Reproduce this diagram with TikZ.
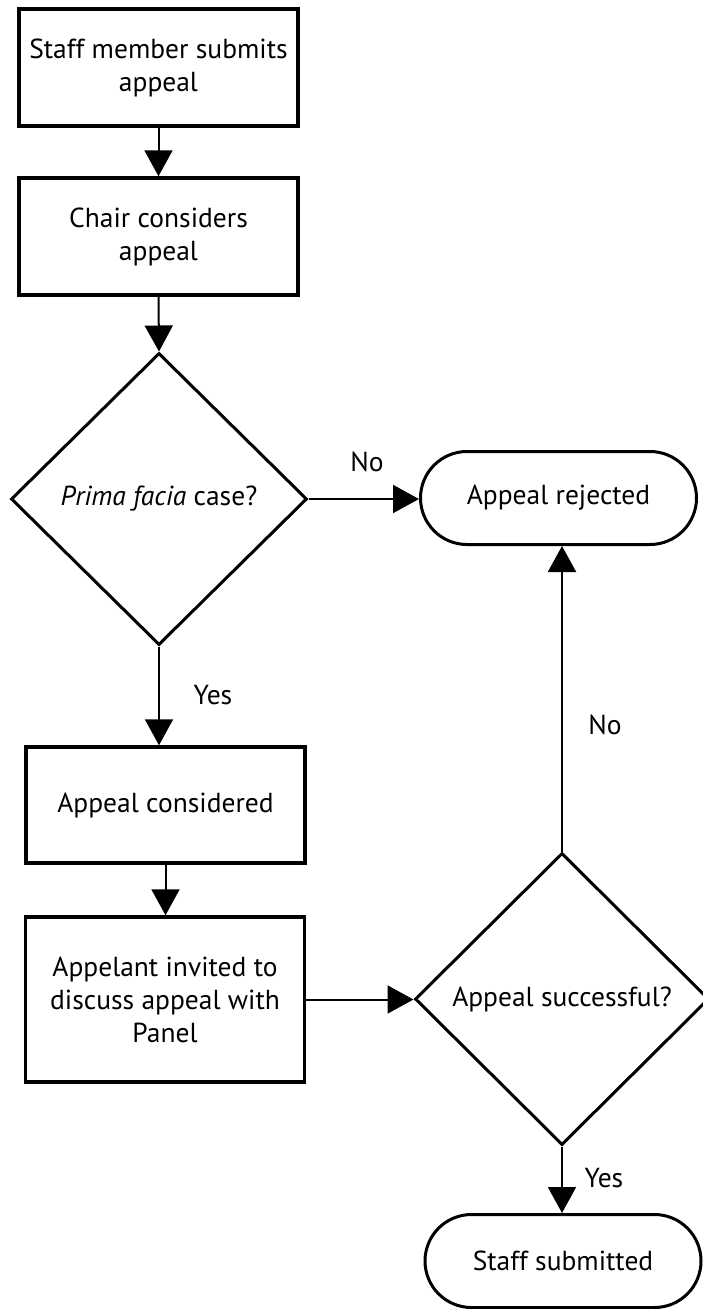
\documentclass[tikz,border=0pt]{standalone}
\usepackage{fontspec}
\setmainfont{PT Sans}
\usetikzlibrary{arrows.meta,shapes.geometric,shapes.misc}
\begin{document}
\begin{tikzpicture}[x=1pt,y=-1pt,
  every node/.style={font=\fontsize{27.5}{33}\selectfont, align=center, inner sep=0pt},
  procbox/.style={draw, line width=3.5pt, rectangle, minimum width=279pt},
  decision/.style={draw, line width=3pt, diamond, minimum width=296pt, minimum height=292pt},
  terminal/.style={draw, line width=3pt, rounded rectangle, minimum width=276pt, minimum height=93pt},
  conn/.style={line width=2pt, -{Triangle[width=28pt,length=26pt]}},
  lbl/.style={font=\fontsize{27.5}{30}\selectfont}]
\useasboundingbox (0,0) rectangle (703,1309);
\fill[white] (0,0) rectangle (703,1309);
\node[procbox, minimum height=117pt] (b1) at (158.5,67.5) {Staff member submits\\appeal};
\node[procbox, minimum height=117pt] (b2) at (158.5,236.5) {Chair considers\\appeal};
\node[decision] (d1) at (159,499) {\textit{Prima facia} case?};
\node[terminal] (rej) at (558.5,498) {Appeal rejected};
\node[procbox, minimum height=116pt] (b3) at (165.5,805) {Appeal considered};
\node[procbox, minimum height=165pt] (b4) at (165,999.5) {Appelant invited to\\discuss appeal with\\Panel};
\node[decision, minimum width=294pt] (d2) at (562,999) {Appeal successful?};
\node[terminal] (sub) at (563,1261) {Staff submitted};

\draw[conn] (b1.south) -- (b2.north);
\draw[conn] (b2.south) -- (d1.north);
\draw[conn] (d1.east) -- (d1.east -| rej.west);
\draw[conn] (d1.south) -- (d1.south |- b3.north);
\draw[conn] (b3.south) -- (b3.south |- b4.north);
\draw[conn] (b4.east) -- (b4.east -| d2.west);
\draw[conn] (d2.north) -- (d2.north |- rej.south);
\draw[conn] (d2.south) -- (d2.south |- sub.north);

\node[lbl] (no1) at (367,462) {No};
\node[lbl] (yes1) at (213,695) {Yes};
\node[lbl] (no2) at (605,725) {No};
\node[lbl] (yes2) at (604,1178) {Yes};
\end{tikzpicture}
\end{document}
